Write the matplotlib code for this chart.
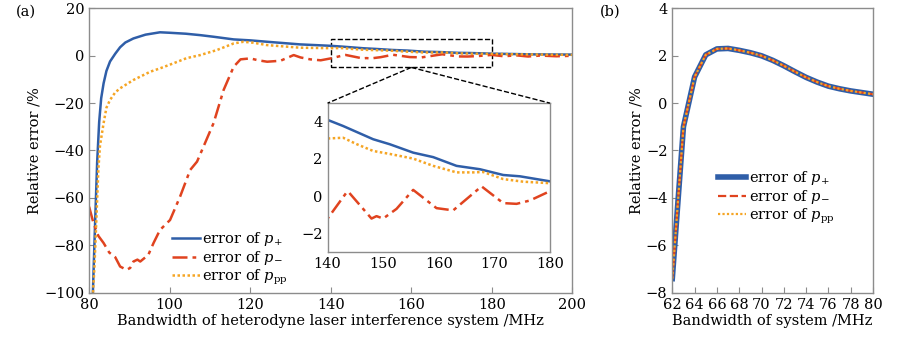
import matplotlib
matplotlib.use('Agg')
import matplotlib.pyplot as plt
from matplotlib.patches import Rectangle

plt.rcParams['font.family'] = 'DejaVu Serif'
plt.rcParams['mathtext.fontset'] = 'dejavuserif'
plt.rcParams['font.size'] = 10.5

BLUE = '#2f5ea8'
RED = '#e0431f'
ORANGE = '#f5a524'
GRAY = '#8c8c8c'

# (a) error of p+ vs bandwidth
x_plus = [80.9, 81.5, 82.0, 82.5, 83.0, 83.6, 84.3, 85.2, 86.5, 87.7, 89.0, 91.0, 94.0,
          97.6, 100.0, 104.0, 107.6, 111.0, 115.9, 120.0, 125.0, 132.4, 140.0, 142.8,
          148.2, 151.2, 155.4, 159.0, 163.2, 167.4, 171.6, 174.6, 180.0, 185.0, 190.0,
          195.0, 200.0]
y_plus = [-102, -70, -45, -28, -18, -11.7, -6.5, -2.5, 0.8, 3.5, 5.5, 7.2, 8.8,
          9.8, 9.6, 9.2, 8.6, 7.9, 6.8, 6.4, 5.7, 4.7, 4.1, 3.77,
          3.06, 2.79, 2.34, 2.1, 1.63, 1.45, 1.14, 1.07, 0.8, 0.65, 0.5,
          0.45, 0.4]

# (a) error of p-
x_minus = [80.0, 81.1, 82.3, 83.6, 85.0, 86.5, 87.7, 89.3, 90.2, 91.0, 92.0, 92.7, 94.7,
           96.0, 97.6, 100.1, 102.6, 105.1, 106.8, 108.4, 110.9, 113.4, 115.9, 117.6,
           120.0, 122.0, 124.2, 127.5, 130.8, 132.5, 134.9, 137.5,
           140.0, 143.4, 143.7, 147.9, 148.8, 150.0, 152.4, 155.4, 159.6, 162.6, 167.7,
           171.6, 174.0, 176.4, 180.0, 183.0, 186.0, 189.0, 192.0, 196.0, 200.0]
y_minus = [-63.7, -70.7, -76.0, -79.0, -83.0, -85.0, -88.9, -90.3, -89.5, -86.8, -86.0, -86.8, -84.0,
           -79.0, -73.5, -69.3, -59.4, -48.2, -44.7, -38.4, -28.5, -14.5, -4.7, -1.6,
           -1.2, -2.0, -2.6, -2.2, 0.2, -0.8, -1.6, -2.0,
           -1.2, 0.2, 0.25, -1.2, -1.07, -1.2, -0.68, 0.34, -0.64, -0.76, 0.53,
           -0.37, -0.41, -0.23, 0.27, -0.3, 0.1, -0.4, 0.0, -0.3, -0.1]

# (a) error of p_pp
x_pp = [80.9, 81.3, 81.6, 81.9, 82.3, 82.7, 83.6, 84.3, 85.2, 86.5, 87.7, 91.0, 95.2,
        97.6, 100.9, 104.2, 107.6, 111.7, 115.9, 118.3, 120.8, 124.2, 132.4, 140.0,
        142.8, 145.2, 148.2, 151.2, 155.4, 159.0, 163.2, 166.2, 168.0, 171.6, 175.2,
        180.0, 185.0, 190.0, 195.0, 200.0]
y_pp = [-102, -90, -78, -65, -48, -38, -28.5, -22, -18.7, -15.5, -13.8, -10.3, -6.8,
        -5.4, -3.3, -1.1, 0.2, 2.3, 5.1, 5.8, 5.4, 4.4, 3.3, 3.1,
        3.14, 2.8, 2.43, 2.27, 2.02, 1.63, 1.28, 1.28, 1.3, 0.92, 0.78,
        0.7, 0.55, 0.45, 0.35, 0.3]

# (b) all three errors coincide
x_b = [62, 63, 64, 65, 66, 67, 68, 69, 70, 71, 72, 73, 74, 75, 76, 77, 78, 79, 80]
y_b = [-7.4, -1.0, 1.1, 2.03, 2.28, 2.3, 2.22, 2.12, 1.99, 1.8, 1.57, 1.32, 1.08,
       0.88, 0.71, 0.6, 0.51, 0.44, 0.37]

lbl_plus = r'error of $p_{+}$'
lbl_minus = r'error of $p_{-}$'
lbl_pp = r'error of $p_{\mathrm{pp}}$'


def style_axes(ax):
    for s in ax.spines.values():
        s.set_color(GRAY)
        s.set_linewidth(1.0)
    ax.tick_params(direction='in', length=4, color=GRAY, top=False, right=False)


fig = plt.figure(figsize=(9, 3.37), dpi=100)

ax1 = fig.add_axes([0.099, 0.131, 0.537, 0.845])
ax1.plot(x_plus, y_plus, color=BLUE, lw=1.8, label=lbl_plus)
ax1.plot(x_minus, y_minus, color=RED, lw=1.8, dashes=(6, 2, 1.5, 2), label=lbl_minus)
ax1.plot(x_pp, y_pp, color=ORANGE, lw=1.8, ls=(0, (1, 1)), label=lbl_pp)
ax1.set_xlim(80, 200)
ax1.set_ylim(-100, 20)
ax1.set_xticks([80, 100, 120, 140, 160, 180, 200])
ax1.set_yticks([-100, -80, -60, -40, -20, 0, 20])
ax1.set_xlabel('Bandwidth of heterodyne laser interference system /MHz', labelpad=2)
ax1.set_ylabel('Relative error /%', labelpad=2)
style_axes(ax1)
ax1.legend(loc='lower left', bbox_to_anchor=(0.15, -0.015), frameon=False,
           handlelength=1.9, handletextpad=0.2, labelspacing=0.05, borderpad=0.2)
ax1.add_patch(Rectangle((140, -5), 40, 12, fill=False, ec='black', ls='--', lw=1.0))

# inset zoom
ax2 = fig.add_axes([0.364, 0.252, 0.247, 0.442])
ax2.plot(x_plus, y_plus, color=BLUE, lw=1.8)
ax2.plot(x_minus, y_minus, color=RED, lw=1.8, dashes=(6, 2, 1.5, 2))
ax2.plot(x_pp, y_pp, color=ORANGE, lw=1.8, ls=(0, (1, 1)))
ax2.set_xlim(140, 180)
ax2.set_ylim(-3, 5)
ax2.set_xticks([140, 150, 160, 170, 180])
ax2.set_yticks([-2, 0, 2, 4])
style_axes(ax2)
ax2.tick_params(length=0)

# connector lines from zoom box to the inset
p0 = fig.transFigure.inverted().transform(ax1.transData.transform((160, -5)))
for xc in (0.364, 0.611):
    fig.add_artist(plt.Line2D([p0[0], xc], [p0[1], 0.694], color='black', ls='--', lw=1.0))

# (b)
ax3 = fig.add_axes([0.747, 0.131, 0.223, 0.845])
ax3.plot(x_b, y_b, color=BLUE, lw=4.0, label=lbl_plus)
ax3.plot(x_b, y_b, color=RED, lw=1.6, ls='--', label=lbl_minus)
ax3.plot(x_b, y_b, color=ORANGE, lw=1.6, ls=(0, (1, 1)), label=lbl_pp)
ax3.set_xlim(62, 80)
ax3.set_ylim(-8, 4)
ax3.set_xticks(list(range(62, 81, 2)))
ax3.set_yticks([-8, -6, -4, -2, 0, 2, 4])
ax3.set_xlabel('Bandwidth of system /MHz', labelpad=2)
ax3.set_ylabel('Relative error /%', labelpad=2)
style_axes(ax3)
ax3.legend(loc='center', bbox_to_anchor=(0.52, 0.335), frameon=False,
           handlelength=1.9, handletextpad=0.2, labelspacing=0.05)

fig.text(0.018, 0.955, '(a)', fontsize=10.5)
fig.text(0.667, 0.955, '(b)', fontsize=10.5)

fig.savefig('out.png', dpi=100)
